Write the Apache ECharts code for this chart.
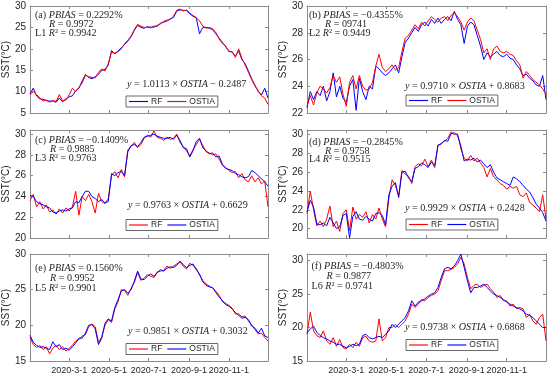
<!DOCTYPE html>
<html><head><meta charset="utf-8">
<script src="https://cdn.jsdelivr.net/npm/echarts@6/dist/echarts.min.js"></script>
<style>html,body{margin:0;padding:0;background:#fff}#c{width:550px;height:381px}</style>
</head><body><div id="c"></div>
<script>
// day-of-year sample positions (2020-1-1 = 0)
const days = [0,5,10,15,20,25,30,35,40,45, 50,55,60,65,70,75,80,85,90,95,
  100,105,110,115,120,125,130,135,140,145, 150,155,160,165,170,175,180,185,190,195,
  200,205,210,215,220,225,230,235,240,245, 250,255,260,265,270,275,280,285,290,295,
  300,305,310,315,320,325,330,335,340,345, 350,355,360,365];

const xTickDays = [60,121,182,244,305];
const xTickLabels = ['2020-3-1','2020-5-1','2020-7-1','2020-9-1','2020-11-1'];

// (a)
const rfA = [9.5,10.8,9.0,8.3,8.2,7.9,7.8,7.8,7.5,8.5, 7.6,8.3,8.8,9.0,10.2,10.8,12.5,14.0,13.3,13.0,
  13.5,14.0,15.0,15.2,16.2,19.6,18.8,19.5,20.2,21.0, 21.8,22.8,24.3,25.5,25.0,24.8,25.2,24.9,25.3,25.2,
  26.0,26.2,26.5,27.0,27.3,28.8,29.1,29.0,28.9,28.2, 27.6,27.2,23.5,25.0,25.0,24.8,24.5,23.5,22.5,21.5,
  20.5,19.5,19.2,18.3,19.5,17.5,16.5,14.8,13.0,11.5, 10.0,9.2,10.8,8.5];
const ostiaA = [9.3,10.0,9.3,8.6,7.8,8.0,7.5,7.9,7.7,9.3, 7.8,8.0,9.2,10.8,10.0,11.0,12.0,13.8,13.5,13.3,
  13.2,14.5,15.3,14.8,16.5,19.2,19.0,19.3,20.0,21.2, 22.0,23.0,24.5,25.7,25.3,25.0,25.0,25.1,25.0,25.5,
  25.8,26.4,26.7,26.8,27.6,29.0,29.3,28.8,29.1,28.4, 27.8,27.3,26.5,25.3,24.8,25.0,24.7,23.8,22.3,21.3,
  20.7,19.3,19.4,18.0,20.0,17.8,16.2,14.5,12.8,11.3, 10.2,9.0,8.5,7.0];
// (b)
const rfB = [22.4,23.6,23.0,23.6,23.3,24.0,22.9,23.6,25.0,23.2, 24.0,23.1,22.8,24.0,24.5,22.2,24.6,23.6,23.0,24.0,
  23.8,25.5,25.3,25.0,24.8,25.0,25.3,25.6,25.0,26.2, 27.3,27.6,28.0,28.4,28.1,28.6,28.8,28.5,29.0,28.7,
  29.1,28.7,29.0,29.2,28.9,29.6,29.0,28.6,27.2,28.5, 28.8,28.6,27.8,27.0,26.0,26.5,26.2,26.4,26.6,26.3,
  26.2,26.4,26.1,26.0,25.6,25.3,24.8,24.9,24.6,24.4, 24.1,24.0,24.8,23.0];
const ostiaB = [22.5,23.3,22.6,23.5,24.0,23.8,23.5,23.9,24.8,24.3, 24.7,23.4,22.5,24.3,24.8,23.8,24.8,24.0,23.7,23.8,
  24.3,25.5,26.4,25.4,25.1,25.3,25.6,25.2,25.4,26.6, 27.6,27.8,28.2,28.6,28.3,28.8,28.5,28.9,29.2,29.0,
  28.8,29.1,29.2,28.9,29.3,29.5,29.2,28.8,28.2,28.8, 29.1,28.9,28.2,27.5,26.5,26.8,26.0,26.8,27.0,26.6,
  26.5,26.6,26.4,26.3,25.9,25.6,24.6,25.1,24.8,24.5, 24.3,24.1,23.8,23.4];
// (c)
const rfC = [23.6,24.2,23.0,23.5,22.8,23.2,22.5,22.7,22.3,22.8, 22.4,22.9,22.6,23.0,24.5,22.2,24.0,23.6,24.2,23.5,
  22.4,24.3,23.5,23.3,23.8,26.0,26.4,25.8,26.6,25.9, 28.5,28.8,29.2,28.7,29.0,29.6,29.9,29.7,30.3,29.7,
  29.6,29.4,29.7,29.5,29.6,30.0,29.2,28.8,28.4,27.9, 28.5,29.0,29.5,28.9,28.3,28.2,28.0,28.1,27.6,27.0,
  26.8,26.5,26.3,26.4,25.8,26.2,25.6,25.4,26.0,25.4, 25.8,25.2,25.5,23.0];
const ostiaC = [24.1,24.0,23.5,23.3,23.2,23.0,22.9,22.5,22.4,22.6, 22.7,22.6,22.8,22.9,23.5,23.4,24.0,24.5,24.5,24.0,
  23.8,23.5,23.7,23.4,23.5,26.2,26.0,26.3,26.4,26.0, 28.3,28.9,29.0,28.8,29.2,29.7,29.8,29.9,30.0,29.8,
  29.7,29.6,29.6,29.7,29.5,29.9,29.4,28.7,28.6,27.8, 28.4,29.3,29.6,28.7,28.4,28.1,28.2,27.8,27.9,27.1,
  26.7,26.6,26.5,26.2,26.1,25.9,25.8,25.9,26.5,26.3, 26.0,25.7,25.4,25.0];
// (d)
const rfD = [21.6,24.0,22.0,20.3,20.8,20.2,21.0,22.4,20.2,20.8, 19.7,21.6,22.0,19.8,22.3,21.0,21.5,21.2,21.8,20.6,
  21.5,21.0,22.2,21.0,20.2,23.2,25.2,24.6,23.5,26.2, 25.8,25.6,24.8,26.6,26.9,26.7,27.4,26.6,27.3,26.5,
  28.8,29.1,29.3,29.6,30.3,30.0,30.1,28.5,27.5,27.2, 27.8,27.2,27.5,27.0,26.5,25.5,26.4,25.5,25.2,24.8,
  24.6,24.2,24.5,24.3,24.5,23.6,23.4,23.8,22.8,22.5, 22.2,21.8,23.6,21.0];
const ostiaD = [21.8,23.0,22.3,20.5,20.4,20.6,20.3,21.2,20.6,20.0, 20.2,21.4,21.6,19.0,21.3,21.8,21.0,20.9,21.3,21.0,
  20.8,21.6,21.7,21.4,20.4,23.6,24.5,24.9,23.3,26.0, 26.1,25.4,25.0,26.4,26.6,27.0,26.8,26.5,27.1,26.7,
  28.9,29.0,29.4,29.3,30.1,30.2,29.9,28.8,27.2,27.4, 27.3,27.5,27.1,27.3,26.9,26.5,26.8,26.0,25.4,25.2,
  25.0,24.8,24.6,25.5,25.3,25.0,24.6,24.2,23.9,23.3, 22.6,22.2,21.7,20.8];
// (e)
const rfE = [18.3,17.3,16.9,17.2,16.6,17.0,16.0,16.8,17.2,16.6, 17.0,16.4,16.8,17.2,17.8,18.0,18.5,18.7,19.8,20.2,
  19.8,17.6,18.4,20.0,20.8,20.4,22.3,23.3,25.0,24.9, 24.2,25.2,26.0,27.4,26.3,26.6,27.1,26.9,26.7,27.5,
  27.6,27.7,28.3,28.0,28.3,28.6,28.9,28.3,27.9,28.7, 28.4,28.0,27.0,26.3,25.8,25.5,25.2,24.8,24.2,23.3,
  23.1,22.8,22.4,21.6,21.6,21.2,21.3,20.6,20.1,19.4, 18.8,18.9,18.3,17.8];
const ostiaE = [18.6,17.6,17.2,16.9,17.0,16.8,16.6,17.7,17.0,17.3, 16.6,16.8,16.5,17.0,17.5,18.2,18.2,18.9,20.0,20.1,
  19.5,17.3,18.2,20.3,20.9,20.6,22.5,23.6,24.8,25.0, 24.5,25.0,26.2,27.6,26.5,26.4,26.9,27.2,26.9,27.3,
  27.8,27.6,28.0,28.2,28.1,28.4,29.0,28.5,28.1,28.4, 28.6,27.8,27.2,26.1,25.6,25.4,25.3,24.6,24.0,23.5,
  22.9,22.7,22.3,21.8,21.4,21.0,21.1,20.8,19.9,19.6, 18.9,19.6,18.5,18.3];
// (f)
const rfF = [19.0,22.3,19.5,18.8,18.5,19.5,18.0,17.5,18.5,17.2, 18.2,17.0,16.8,17.5,17.0,17.8,17.2,18.5,18.7,18.0,
  17.8,18.0,21.3,18.0,18.5,20.0,20.0,20.5,20.0,20.5, 21.0,22.0,23.5,23.0,23.5,24.2,24.0,24.5,24.8,25.0,
  25.5,27.0,28.5,28.5,28.7,29.0,29.5,30.5,29.5,27.5, 25.8,26.3,26.5,26.0,26.3,26.5,25.8,25.3,24.5,24.8,
  24.0,24.0,23.2,23.5,22.8,23.0,22.8,21.5,22.0,21.0, 20.5,21.5,22.0,18.0];
const ostiaF = [19.2,19.8,20.2,19.3,18.8,18.5,18.3,18.0,17.8,17.5, 17.5,17.2,17.0,17.2,17.5,17.3,17.5,18.8,19.0,18.5,
  18.3,18.5,18.7,18.5,19.0,19.5,20.5,20.0,20.5,21.0, 21.5,22.5,24.0,23.2,23.8,24.0,24.3,24.7,25.0,25.2,
  26.0,27.5,28.8,29.0,28.8,29.2,30.0,31.0,29.0,27.0, 25.2,26.0,26.0,26.2,26.5,26.0,25.5,25.0,24.8,24.5,
  24.2,23.8,23.5,23.2,23.0,22.8,22.5,22.0,21.8,21.5, 21.0,20.5,20.0,20.0];

// statistics text
const tags = ['(a)','(b)','(c)','(d)','(e)','(f)'];
const pbias = ['0.2292%','\u22120.4355%','\u22120.1409%','\u22120.2845%','0.1560%','\u22120.4803%'];
const rVals = ['0.9972','09741','0.9885','0.9758','0.9952','0.9877'];
const lTags = ['L1','L2','L3','L4','L5','L6'];
const r2Vals = ['0.9942','0.9449','0.9763','0.9515','0.9901','0.9741'];
const slopes = ['1.0113','0.9710','0.9763','0.9929','0.9851','0.9738'];
const intercepts = ['\u2212 0.2487','+ 0.8683','+ 0.6629','+ 0.2428','+ 0.3032','+ 0.6868'];

const yTicks = [[5,10,15,20,25,30],[22,24,26,28,30],[20,22,24,26,28,30],[20,22,24,26,28,30],[15,20,25,30],[15,20,25,30]];
const yRanges = [[5,30],[22,30],[20,30.4],[19,30.5],[15,30],[15,31]];

const BLUE = '#0000ff', RED = '#ff0000';
const seriesDefs = [
  [['RF',rfA,BLUE],['OSTIA',ostiaA,RED]],
  [['RF',rfB,BLUE],['OSTIA',ostiaB,RED]],
  [['RF',rfC,RED],['OSTIA',ostiaC,BLUE]],
  [['RF',rfD,RED],['OSTIA',ostiaD,BLUE]],
  [['RF',rfE,RED],['OSTIA',ostiaE,BLUE]],
  [['RF',rfF,RED],['OSTIA',ostiaF,BLUE]]
];

// layout (pixels)
const L = [
  {grid:[30,6,238,107], tx:[35,49,35], ty:[15.7,24.5,33.3], eq:[127,84], lg:[126,96], xl:false},
  {grid:[307,6,239,107], tx:[309,325,309], ty:[15.7,24.5,33.3], eq:[405,86], lg:[406,95], xl:false},
  {grid:[30,130,238,108], tx:[35,50,35], ty:[140,149,158.3], eq:[128,205.7], lg:[126,219.5], xl:false},
  {grid:[307,130,239,108], tx:[309,325,309], ty:[142.3,151,159.7], eq:[405,208.3], lg:[406,219], xl:false},
  {grid:[30,254,238,107], tx:[35,50,35], ty:[268.3,278.3,288.3], eq:[128,331.7], lg:[126,343.5], xl:true},
  {grid:[307,254,239,107], tx:[311.5,326.5,311.5], ty:[266,276,286.7], eq:[405,327.3], lg:[406,339.5], xl:true}
];

const AX = '#8c8c8c', TXT = '#262626';
const SANS = "'Liberation Sans',Arial,sans-serif";
const SERIF = "'Liberation Serif','Times New Roman',serif";
const FS = 10.1;
const rich = {
  n:{fontFamily:SERIF, fontSize:FS, fill:TXT},
  i:{fontFamily:SERIF, fontSize:FS, fontStyle:'italic', fill:TXT}
};

const grids=[], xAxes=[], yAxes=[], series=[], legends=[], graphics=[];
L.forEach((p,k)=>{
  grids.push({left:p.grid[0], top:p.grid[1], width:p.grid[2], height:p.grid[3], containLabel:false});
  const xb = {type:'value', gridIndex:k, min:0, max:365, position:'bottom',
    axisLine:{show:true, onZero:false, lineStyle:{color:AX,width:1}},
    axisTick:{show:true, inside:true, length:3, customValues:xTickDays, lineStyle:{color:AX}},
    axisLabel:{show:p.xl, customValues:xTickDays, margin:5, color:TXT, fontSize:9, fontFamily:SANS,
      hideOverlap:false, showMinLabel:true, showMaxLabel:true,
      formatter:v=>xTickLabels[xTickDays.indexOf(v)] || ''},
    splitLine:{show:false}};
  const xt = {type:'value', gridIndex:k, min:0, max:365, position:'top',
    axisLine:{show:true, onZero:false, lineStyle:{color:AX,width:1}},
    axisTick:{show:true, inside:true, length:3, customValues:xTickDays, lineStyle:{color:AX}},
    axisLabel:{show:false}, splitLine:{show:false}};
  xAxes.push(xb, xt);
  const yl = {type:'value', gridIndex:k, min:yRanges[k][0], max:yRanges[k][1], position:'left',
    name:'SST(\u00b0C)', nameLocation:'middle', nameGap:14,
    nameTextStyle:{fontSize:10, color:TXT, fontFamily:SANS},
    axisLine:{show:true, onZero:false, lineStyle:{color:AX,width:1}},
    axisTick:{show:true, inside:true, length:3, customValues:yTicks[k], lineStyle:{color:AX}},
    axisLabel:{show:true, customValues:yTicks[k], margin:4, color:TXT, fontSize:10, fontFamily:SANS,
      hideOverlap:false},
    splitLine:{show:false}};
  const yr = {type:'value', gridIndex:k, min:yRanges[k][0], max:yRanges[k][1], position:'right',
    axisLine:{show:true, onZero:false, lineStyle:{color:AX,width:1}},
    axisTick:{show:true, inside:true, length:3, customValues:yTicks[k], lineStyle:{color:AX}},
    axisLabel:{show:false}, splitLine:{show:false}};
  yAxes.push(yl, yr);
  seriesDefs[k].forEach(s=>{
    series.push({type:'line', name:s[0], xAxisIndex:2*k, yAxisIndex:2*k, symbol:'none', showSymbol:false,
      data:days.map((d,i)=>[d, s[1][i]]), lineStyle:{color:s[2], width:1}, itemStyle:{color:s[2]},
      clip:true, silent:true});
  });
  legends.push({left:p.lg[0], top:p.lg[1], orient:'horizontal', itemWidth:19, itemHeight:8, itemGap:5,
    padding:[1,3], borderColor:'#444', borderWidth:0.8, backgroundColor:'#fff',
    textStyle:{fontSize:8.5, color:TXT, fontFamily:SANS, padding:[0,0,0,-2]},
    selectedMode:false,
    data:seriesDefs[k].map(s=>({name:s[0], icon:'path://M0,0L20,0L20,1.2L0,1.2Z', itemStyle:{color:s[2]}, lineStyle:{color:s[2]}}))});
  const lines = [
    '{n|'+tags[k]+' }{i|PBIAS}{n| = '+pbias[k]+'}',
    '{i|R}{n| = '+rVals[k]+'}',
    '{n|'+lTags[k]+' }{i|R}{n|\u00b2 = '+r2Vals[k]+'}'
  ];
  lines.forEach((t,j)=>graphics.push({type:'text', x:p.tx[j], y:p.ty[j], silent:true,
    style:{text:t, rich:rich, verticalAlign:'middle', align:'left', fontFamily:SERIF, fontSize:FS, fill:TXT}}));
  graphics.push({type:'text', x:p.eq[0], y:p.eq[1], silent:true,
    style:{text:'{i|y}{n| = '+slopes[k]+' \u00d7 }{i|OSTIA}{n| '+intercepts[k]+'}', rich:rich,
      verticalAlign:'middle', align:'left', fontFamily:SERIF, fontSize:FS, fill:TXT}});
});

const chart = echarts.init(document.getElementById('c'), null, {renderer:'canvas'});
chart.setOption({animation:false, backgroundColor:'#fff', grid:grids, xAxis:xAxes, yAxis:yAxes,
  series:series, legend:legends, graphic:graphics});
</script></body></html>
